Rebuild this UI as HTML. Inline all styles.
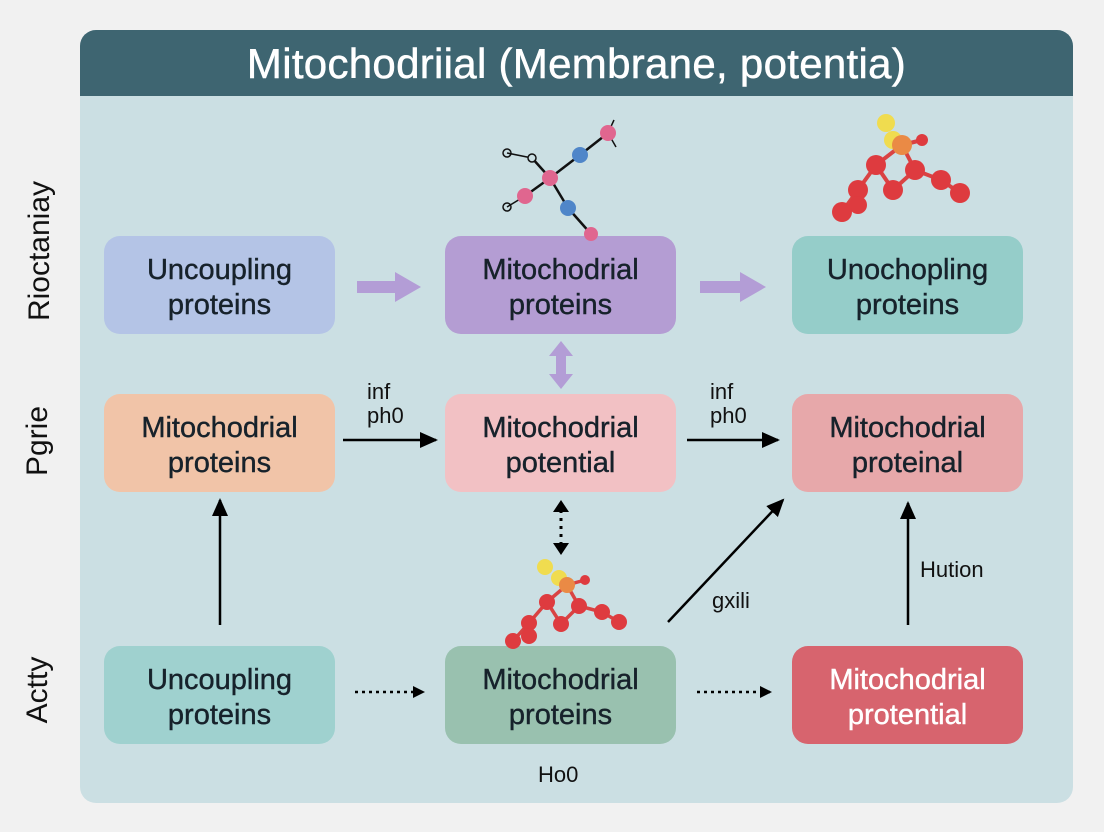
<!DOCTYPE html>
<html><head><style>
body{margin:0;width:1104px;height:832px;background:#f1f1f1;font-family:"Liberation Sans",sans-serif;position:relative;overflow:hidden}
.panel{position:absolute;left:80px;top:30px;width:993px;height:773px;background:#cbdfe3;border-radius:16px;overflow:hidden}
.hdr{position:absolute;left:0;top:0;width:100%;height:66px;background:#3e6571;color:#fff;font-size:42px;text-align:center;line-height:68px;letter-spacing:0.3px;-webkit-text-stroke:0.5px #fff}
.box{position:absolute;width:231px;height:98px;box-sizing:border-box;padding-top:6px;border-radius:16px;display:flex;align-items:center;justify-content:center;text-align:center;font-size:29px;line-height:35px;color:#17222b;-webkit-text-stroke:0.4px #17222b}
.lbl{position:absolute;font-size:22px;color:#111}
.side{position:absolute;font-size:30px;color:#111;transform:rotate(-90deg);transform-origin:center;white-space:nowrap}
</style></head><body>
<div class="panel"><div class="hdr">Mitochodriial (Membrane, potentia)</div></div>
<div class="side" style="left:-35px;top:234px;width:150px;text-align:center">Rioctaniay</div>
<div class="side" style="left:-12px;top:424px;width:100px;text-align:center">Pgrie</div>
<div class="side" style="left:-12px;top:673px;width:100px;text-align:center">Actty</div>

<div class="box" style="left:104px;top:236px;background:#b4c4e6">Uncoupling<br>proteins</div>
<div class="box" style="left:445px;top:236px;background:#b49dd3">Mitochodrial<br>proteins</div>
<div class="box" style="left:792px;top:236px;background:#95cdc9">Unochopling<br>proteins</div>
<div class="box" style="left:104px;top:394px;background:#f1c4a8">Mitochodrial<br>proteins</div>
<div class="box" style="left:445px;top:394px;background:#f2c1c4">Mitochodrial<br>potential</div>
<div class="box" style="left:792px;top:394px;background:#e7a8aa">Mitochodrial<br>proteinal</div>
<div class="box" style="left:104px;top:646px;background:#9fd1cf">Uncoupling<br>proteins</div>
<div class="box" style="left:445px;top:646px;background:#99c1af">Mitochodrial<br>proteins</div>
<div class="box" style="left:792px;top:646px;background:#d7646e;color:#fff;-webkit-text-stroke:0.4px #fff">Mitochodrial<br>protential</div>

<div class="lbl" style="left:367px;top:380px;line-height:24px">inf<br>ph0</div>
<div class="lbl" style="left:710px;top:380px;line-height:24px">inf<br>ph0</div>
<div class="lbl" style="left:712px;top:588px">gxili</div>
<div class="lbl" style="left:920px;top:557px">Hution</div>
<div class="lbl" style="left:538px;top:762px">Ho0</div>

<svg width="1104" height="832" style="position:absolute;left:0;top:0">
<defs>
<marker id="a" markerWidth="18" markerHeight="18" refX="16" refY="9" orient="auto" markerUnits="userSpaceOnUse" viewBox="0 0 18 18"><path d="M0,1L18,9L0,17z" fill="#000"/></marker>
<marker id="b" markerWidth="12" markerHeight="12" refX="10" refY="6" orient="auto" markerUnits="userSpaceOnUse" viewBox="0 0 12 12"><path d="M0,0L12,6L0,12z" fill="#000"/></marker>
</defs>
<g fill="#b39dd6">
<rect x="357" y="281" width="40" height="12"/><path d="M395,272L421,287L395,302z"/>
<rect x="700" y="281" width="42" height="12"/><path d="M740,272L766,287L740,302z"/>
<rect x="556" y="355" width="10" height="20"/><path d="M549,356L561,341L573,356z"/><path d="M549,374L561,389L573,374z"/>
</g>
<g stroke="#000" stroke-width="2.5" fill="none">
<line x1="343" y1="440" x2="436" y2="440" marker-end="url(#a)"/>
<line x1="687" y1="440" x2="778" y2="440" marker-end="url(#a)"/>
<line x1="220" y1="625" x2="220" y2="500" marker-end="url(#a)"/>
<line x1="908" y1="625" x2="908" y2="503" marker-end="url(#a)"/>
<line x1="668" y1="622" x2="783" y2="500" marker-end="url(#a)"/>
<line x1="355" y1="692" x2="423" y2="692" stroke-dasharray="3 4" marker-end="url(#b)"/>
<line x1="697" y1="692" x2="770" y2="692" stroke-dasharray="3 4" marker-end="url(#b)"/>
<line x1="561" y1="510" x2="561" y2="545" stroke-dasharray="3 5" stroke-width="3"/>
</g>
<path d="M553,512L561,500L569,512z M553,543L561,555L569,543z" fill="#000"/>
<g stroke="#111" stroke-width="2.5">
<line x1="550" y1="178" x2="580" y2="155"/><line x1="580" y1="155" x2="608" y2="133"/>
<line x1="550" y1="178" x2="525" y2="196"/><line x1="550" y1="178" x2="568" y2="208"/>
<line x1="568" y1="208" x2="591" y2="234"/><line x1="550" y1="178" x2="532" y2="158"/>
<line x1="507" y1="153" x2="532" y2="158" stroke-width="1.5"/><line x1="507" y1="207" x2="525" y2="196" stroke-width="1.5"/>
<line x1="608" y1="133" x2="614" y2="120" stroke-width="1.5"/><line x1="608" y1="133" x2="616" y2="147" stroke-width="1.5"/>
</g>
<g><circle cx="507" cy="153" r="4" fill="none" stroke="#111" stroke-width="1.5"/><circle cx="532" cy="158" r="4" fill="#cbdfe3" stroke="#111" stroke-width="1.5"/><circle cx="507" cy="207" r="4" fill="none" stroke="#111" stroke-width="1.5"/></g>
<g fill="#e0668f"><circle cx="550" cy="178" r="8"/><circle cx="608" cy="133" r="8"/><circle cx="525" cy="196" r="8"/><circle cx="591" cy="234" r="7"/></g>
<g fill="#4f86c9"><circle cx="580" cy="155" r="8"/><circle cx="568" cy="208" r="8"/></g>
<g stroke="#d94343" stroke-width="4">
<polyline points="893,140 902,145 876,165 858,190 842,212" fill="none"/>
<polyline points="876,165 893,190 915,170 941,180 960,193" fill="none"/><line x1="902" y1="145" x2="915" y2="170"/><line x1="902" y1="145" x2="922" y2="140"/>
</g>
<g fill="#f0dc4f"><circle cx="886" cy="123" r="9"/><circle cx="893" cy="140" r="9"/></g>
<g fill="#de3b3f"><circle cx="922" cy="140" r="6"/><circle cx="876" cy="165" r="10"/><circle cx="858" cy="190" r="10"/><circle cx="858" cy="205" r="9"/><circle cx="842" cy="212" r="10"/><circle cx="893" cy="190" r="10"/><circle cx="915" cy="170" r="10"/><circle cx="941" cy="180" r="10"/><circle cx="960" cy="193" r="10"/></g>
<circle cx="902" cy="145" r="10" fill="#ea8a45"/>
<g stroke="#d94343" stroke-width="3.5" fill="none">
<polyline points="559,578 567,585 547,602 529,623 513,641"/>
<polyline points="547,602 561,624 579,606 602,612 619,622"/><line x1="567" y1="585" x2="579" y2="606"/><line x1="567" y1="585" x2="585" y2="580"/>
</g>
<g fill="#f0dc4f"><circle cx="545" cy="567" r="8"/><circle cx="559" cy="578" r="8"/></g>
<g fill="#de3b3f"><circle cx="585" cy="580" r="5"/><circle cx="547" cy="602" r="8"/><circle cx="529" cy="623" r="8"/><circle cx="529" cy="636" r="8"/><circle cx="513" cy="641" r="8"/><circle cx="561" cy="624" r="8"/><circle cx="579" cy="606" r="8"/><circle cx="602" cy="612" r="8"/><circle cx="619" cy="622" r="8"/></g>
<circle cx="567" cy="585" r="8" fill="#ea8a45"/>
</svg>
</body></html>
